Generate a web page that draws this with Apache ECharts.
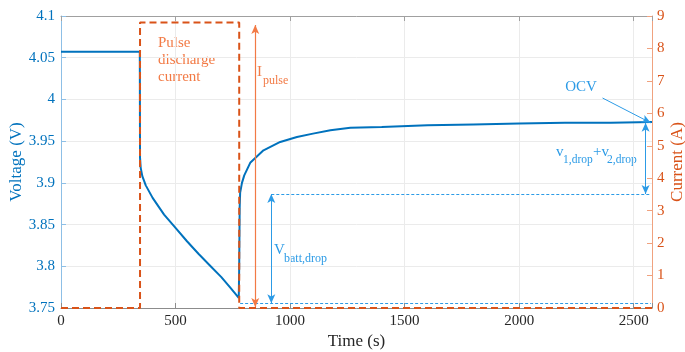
<!DOCTYPE html>
<html>
<head>
<meta charset="utf-8">
<script src="https://cdn.jsdelivr.net/npm/echarts@6/dist/echarts.min.js"></script>
<style>
  html, body { margin: 0; padding: 0; background: #fff; }
  #chart { width: 685px; height: 352px; }
</style>
</head>
<body>
<div id="chart"></div>
<script>
// voltage trace (s, V)
const voltTime = [0, 344, 345, 348, 355, 370, 400, 450, 500, 550, 600, 650, 700, 740, 776,
  778, 780, 782, 790, 800, 826, 884, 957, 1030, 1100, 1176, 1263, 1400, 1600, 1800, 2000, 2200, 2400, 2580];
const voltValues = [4.057, 4.057, 3.930, 3.918, 3.908, 3.897, 3.882, 3.862, 3.846, 3.830, 3.815, 3.801, 3.787, 3.774, 3.762,
  3.800, 3.870, 3.888, 3.900, 3.909, 3.924, 3.939, 3.949, 3.955, 3.959, 3.963, 3.966, 3.967, 3.969, 3.970, 3.971, 3.972, 3.972, 3.973];

// current trace (s, A)
const currTime = [0, 345, 345, 778, 778, 2580];
const currValues = [0, 0, 8.8, 8.8, 0, 0];

// annotation levels
const dropTop = 3.8866;      // V
const dropBottom = 3.7557;   // V
const ocvLevel = 3.972;      // V
const pulseTop = 8.72;       // A
const pulseBottom = 0.03;    // A

const xTicks = [0, 500, 1000, 1500, 2000, 2500];

const BLUE = '#0072BD';
const ORANGE = '#D95319';
const ANN_BLUE = '#2C9BE6';
const ANN_ORANGE = '#F27A45';
const FONT = 'Liberation Serif';

const chart = echarts.init(document.getElementById('chart'));

function arrowEnd(coord, sym) {
  return { coord: coord, symbol: sym, symbolSize: [6, 9] };
}

const option = {
  animation: false,
  textStyle: { fontFamily: FONT },
  grid: { left: 61, right: 33, top: 16, bottom: 44, containLabel: false, outerBoundsMode: 'none' },
  xAxis: [
    {
      type: 'value',
      min: 0,
      max: 2580,
      interval: 500,
      name: 'Time (s)',
      nameLocation: 'middle',
      nameGap: 25,
      nameMoveOverlap: false,
      nameTextStyle: { color: '#262626', fontSize: 17, fontFamily: FONT },
      axisLine: { onZero: false, lineStyle: { color: '#8c8c8c', width: 1 } },
      axisTick: { inside: false, length: -5, lineStyle: { color: '#8c8c8c' } },
      axisLabel: {
        color: '#262626', fontSize: 15, fontFamily: FONT, margin: 6,
        formatter: v => (xTicks.indexOf(v) >= 0 ? String(v) : '')
      },
      splitLine: { show: true, lineStyle: { color: '#ebebeb', width: 1 } }
    },
    {
      type: 'value',
      position: 'top',
      min: 0,
      max: 2580,
      interval: 500,
      axisLine: { onZero: false, lineStyle: { color: '#a0a0a0', width: 1 } },
      axisTick: { inside: false, length: -5, lineStyle: { color: '#a0a0a0' } },
      axisLabel: { show: false },
      splitLine: { show: false }
    }
  ],
  yAxis: [
    {
      type: 'value',
      position: 'left',
      min: 3.75,
      max: 4.1,
      interval: 0.05,
      name: 'Voltage (V)',
      nameLocation: 'middle',
      nameGap: 36,
      nameMoveOverlap: false,
      nameTextStyle: { color: BLUE, fontSize: 17, fontFamily: FONT },
      axisLine: { show: true, onZero: false, lineStyle: { color: '#8dbfe6', width: 1 } },
      axisTick: { show: true, inside: false, length: -5, lineStyle: { color: '#8dbfe6' } },
      axisLabel: {
        color: BLUE, fontSize: 15, fontFamily: FONT, margin: 6,
        formatter: v => String(+v.toFixed(2))
      },
      splitLine: { show: true, lineStyle: { color: '#ebebeb', width: 1 } }
    },
    {
      type: 'value',
      position: 'right',
      min: 0,
      max: 9,
      interval: 1,
      name: 'Current (A)',
      nameLocation: 'middle',
      nameGap: 17,
      nameMoveOverlap: false,
      nameTextStyle: { color: ORANGE, fontSize: 17, fontFamily: FONT },
      axisLine: { show: true, onZero: false, lineStyle: { color: '#f0a27f', width: 1 } },
      axisTick: { show: true, inside: false, length: -5, lineStyle: { color: '#f0a27f' } },
      axisLabel: { color: ORANGE, fontSize: 15, fontFamily: FONT, margin: 5 },
      splitLine: { show: false }
    }
  ],
  series: [
    {
      name: 'Voltage',
      type: 'line',
      xAxisIndex: 0,
      yAxisIndex: 0,
      data: voltTime.map((t, i) => [t, voltValues[i]]),
      showSymbol: false,
      symbol: 'none',
      clip: false,
      lineStyle: { color: BLUE, width: 2 },
      z: 3,
      markLine: {
        silent: true,
        animation: false,
        label: { show: false },
        data: [
          [
            { coord: [918, dropTop], symbol: 'none', lineStyle: { type: [3, 2], width: 1, color: ANN_BLUE } },
            { coord: [2575, dropTop], symbol: 'none' }
          ],
          [
            { coord: [782, dropBottom], symbol: 'none', lineStyle: { type: [3, 2], width: 1, color: ANN_BLUE } },
            { coord: [2575, dropBottom], symbol: 'none' }
          ],
          [
            Object.assign(arrowEnd([918, dropTop], 'arrow'), { lineStyle: { type: 'solid', width: 1, color: ANN_BLUE } }),
            arrowEnd([918, dropBottom], 'arrow')
          ],
          [
            Object.assign(arrowEnd([2552, ocvLevel], 'arrow'), { lineStyle: { type: 'solid', width: 1, color: ANN_BLUE } }),
            arrowEnd([2552, dropTop], 'arrow')
          ],
          [
            { coord: [2364, 4.0017], symbol: 'none', lineStyle: { type: 'solid', width: 1, color: ANN_BLUE } },
            arrowEnd([2574, ocvLevel], 'arrow')
          ]
        ]
      }
    },
    {
      name: 'Current',
      type: 'line',
      xAxisIndex: 0,
      yAxisIndex: 1,
      data: currTime.map((t, i) => [t, currValues[i]]),
      showSymbol: false,
      symbol: 'none',
      clip: false,
      lineStyle: { color: ORANGE, width: 2, type: [7, 4] },
      z: 4,
      markLine: {
        silent: true,
        animation: false,
        label: { show: false },
        data: [
          [
            Object.assign(arrowEnd([848, pulseTop], 'arrow'), { lineStyle: { type: 'solid', width: 1.2, color: ANN_ORANGE } }),
            arrowEnd([848, pulseBottom], 'arrow')
          ]
        ]
      }
    }
  ],
  graphic: [
    { type: 'text', left: 158, top: 35, style: { text: 'Pulse\ndischarge\ncurrent', fill: ANN_ORANGE, font: '15px "Liberation Serif"', lineHeight: 17 } },
    { type: 'text', x: 257, y: 72, style: { text: 'I', fill: ANN_ORANGE, font: '15px "Liberation Serif"', textVerticalAlign: 'middle' } },
    { type: 'text', x: 263, y: 81, style: { text: 'pulse', fill: ANN_ORANGE, font: '12px "Liberation Serif"', textVerticalAlign: 'middle' } },
    { type: 'text', x: 274, y: 250, style: { text: 'V', fill: ANN_BLUE, font: '15px "Liberation Serif"', textVerticalAlign: 'middle' } },
    { type: 'text', x: 284, y: 259, style: { text: 'batt,drop', fill: ANN_BLUE, font: '12px "Liberation Serif"', textVerticalAlign: 'middle' } },
    { type: 'text', x: 556, y: 152, style: { text: 'v', fill: ANN_BLUE, font: '15px "Liberation Serif"', textVerticalAlign: 'middle' } },
    { type: 'text', x: 563, y: 160, style: { text: '1,drop', fill: ANN_BLUE, font: '11.5px "Liberation Serif"', textVerticalAlign: 'middle' } },
    { type: 'text', x: 593, y: 152, style: { text: '+v', fill: ANN_BLUE, font: '15px "Liberation Serif"', textVerticalAlign: 'middle' } },
    { type: 'text', x: 607, y: 160, style: { text: '2,drop', fill: ANN_BLUE, font: '11.5px "Liberation Serif"', textVerticalAlign: 'middle' } },
    { type: 'text', x: 581, y: 87, style: { text: 'OCV', fill: ANN_BLUE, font: '15px "Liberation Serif"', textAlign: 'center', textVerticalAlign: 'middle' } }
  ]
};

chart.setOption(option);
</script>
</body>
</html>
